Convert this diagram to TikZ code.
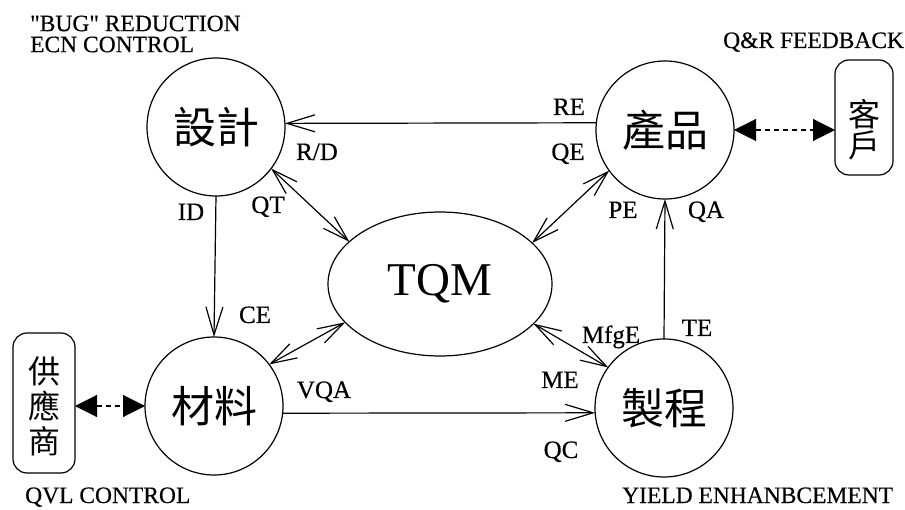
\documentclass[tikz,border=0pt]{standalone}
\usepackage{fontspec}
\setmainfont{Liberation Serif}
\newfontfamily\lblfont[FakeBold=0.4]{Liberation Serif}
\newfontfamily\cjk{Noto Sans CJK TC}
\usetikzlibrary{arrows.meta,shapes.geometric}
\tikzset{
  circ/.style={circle,draw,line width=1.2pt,minimum size=138pt,inner sep=0pt,outer sep=0pt,font=\cjk\fontsize{43}{43}\selectfont},
  tqmnode/.style={ellipse,draw,line width=1.2pt,minimum width=224pt,minimum height=144pt,inner sep=0pt,outer sep=0pt,font=\fontsize{47}{47}\selectfont},
  sidebox/.style={rectangle,rounded corners=14pt,draw,line width=1.2pt,inner sep=0pt,outer sep=0pt,align=center},
  lbl/.style={anchor=base,inner sep=0pt,font=\lblfont\fontsize{25}{25}\selectfont},
  corner/.style={anchor=base west,inner sep=0pt,font=\lblfont\fontsize{23.5}{21}\selectfont},
  arr/.style={line width=1.2pt,-{Straight Barb[length=28pt,width=17pt,line width=1.2pt]}},
  bidir/.style={line width=1.2pt,{Straight Barb[length=26pt,width=16pt,line width=1.2pt]}-{Straight Barb[length=26pt,width=16pt,line width=1.2pt]}},
  dashlink/.style={line width=1.1pt,dash pattern=on 5pt off 4pt,{Triangle[length=22pt,width=22pt]}-{Triangle[length=22pt,width=22pt]}}
}
\begin{document}
\begin{tikzpicture}[x=1pt,y=-1pt]
\useasboundingbox (0,0) rectangle (905,510);
% main nodes
\node[circ] (des) at (216,127) {設計};
\node[circ] (prod) at (665,130) {產品};
\node[circ] (mat) at (214,406) {材料};
\node[circ] (proc) at (664,408) {製程};
\node[tqmnode] (tqm) at (440,284) {TQM};
\node[sidebox,minimum width=58pt,minimum height=115pt] (cust) at (864,117.5) {};
\node[sidebox,minimum width=62pt,minimum height=140pt] (sup) at (44,403) {};
\node[inner sep=0pt,align=center,font=\cjk\fontsize{32}{31}\selectfont] (custtxt) at (864,130) {客\\戶};
\node[inner sep=0pt,align=center,font=\cjk\fontsize{32}{35}\selectfont] (suptxt) at (44,406) {供\\應\\商};
% connectors
\draw[arr] (prod.174) -- (des.3);
\draw[arr] (des.south) -- (mat.north);
\draw[arr] (proc.north) -- (prod.south);
\draw[arr] (mat.-6) -- (proc.184);
\draw[bidir] (des.-37) -- (tqm.155);
\draw[bidir] (prod.216) -- (tqm.24);
\draw[bidir] (mat.37) -- (tqm.202);
\draw[bidir] (tqm.-23) -- (proc.144);
\draw[dashlink] (prod.east) -- (cust.west |- prod.east);
\draw[dashlink] (sup.east |- mat.west) -- (mat.west);
% labels
\node[lbl] (lre) at (569,115) {RE};
\node[lbl] (lrd) at (317,160) {R/D};
\node[lbl] (lqe) at (568,160) {QE};
\node[lbl] (lid) at (191,220) {ID};
\node[lbl] (lqt) at (268,213) {QT};
\node[lbl] (lce) at (255,323) {CE};
\node[lbl] (lpe) at (623,218) {PE};
\node[lbl] (lqa) at (706,218) {QA};
\node[lbl] (lte) at (697,336) {TE};
\node[lbl] (lmfg) at (611,343) {MfgE};
\node[lbl] (lvqa) at (324,398) {VQA};
\node[lbl] (lme) at (560,388) {ME};
\node[lbl] (lqc) at (561,458) {QC};
% corner texts
\node[corner,anchor=west,align=left] (c1) at (30,34) {\textquotedbl BUG\textquotedbl{} REDUCTION\\ECN CONTROL};
\node[corner] (c3) at (723,48) {Q\&R FEEDBACK};
\node[corner] (c4) at (25,503) {QVL CONTROL};
\node[corner] (c5) at (622,503) {YIELD ENHANBCEMENT};
\end{tikzpicture}
\end{document}
